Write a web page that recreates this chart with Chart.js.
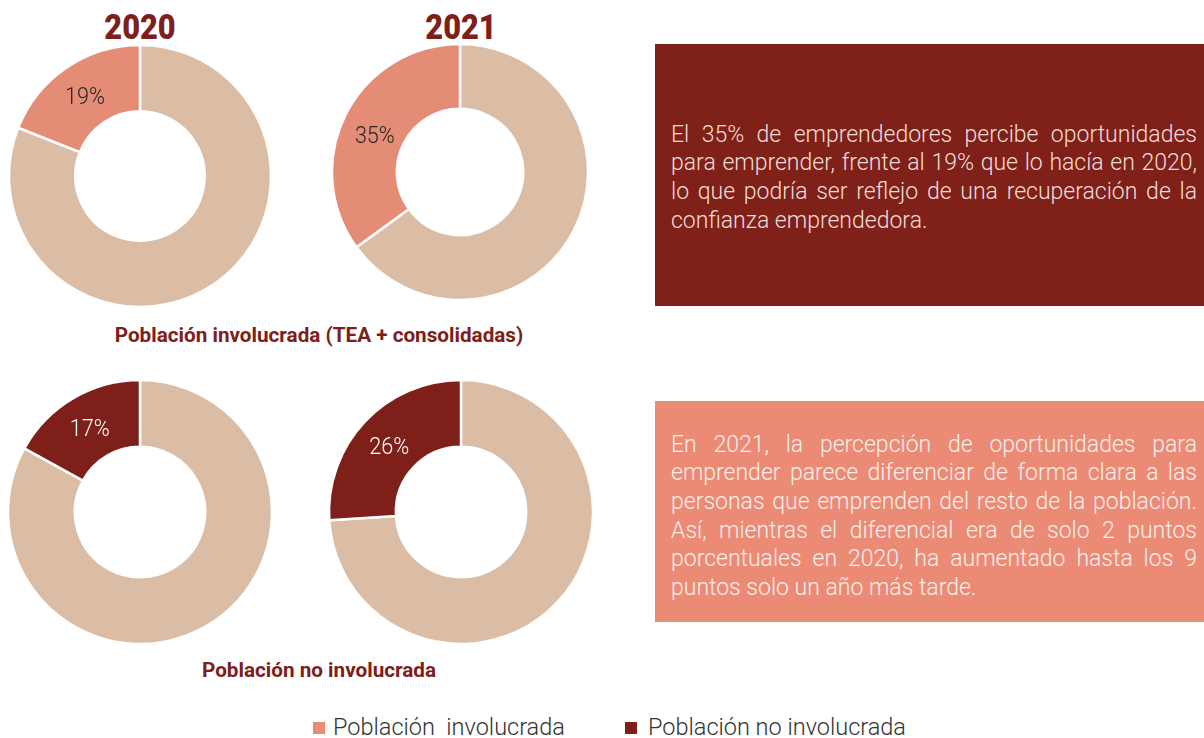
<!DOCTYPE html>
<html>
<head>
<meta charset="utf-8">
<script src="https://cdn.jsdelivr.net/npm/chart.js@4"></script>
<style>
  html, body { margin:0; padding:0; background:#fff; }
  body { width:1204px; height:738px; position:relative; overflow:hidden; font-family:Roboto, "Noto Sans", sans-serif; }
  .abs { position:absolute; }
  .title { font-weight:900; color:#7E2019; font-size:35px; line-height:35px; width:200px; text-align:center; transform:scaleX(0.88); transform-origin:center; }
  .sub { font-weight:700; color:#7E2019; font-size:21px; line-height:21px; width:520px; text-align:center; transform:scaleX(0.985); transform-origin:center; white-space:nowrap; }
  .box { position:absolute; left:655px; width:549px; }
  .line { position:absolute; left:16px; width:526px; font-weight:300; font-size:23px; line-height:28.7px; text-align:justify; text-align-last:justify; }
  .line.last { text-align-last:left; }
  .leg { position:absolute; font-weight:300; font-size:23.5px; line-height:23.5px; color:#333333; white-space:pre; }
  .sq { position:absolute; width:12px; height:12px; }
</style>
</head>
<body>
<script>
// ---- data ----
const years = ['2020', '2021'];
const groupTitles = ['Población involucrada (TEA + consolidadas)', 'Población no involucrada'];
const seriesNames = ['Población  involucrada', 'Población no involucrada'];
const involucradaPct = [19, 35];     // share perceiving opportunities, involved population
const noInvolucradaPct = [17, 26];   // share perceiving opportunities, non-involved population
const boxTopLines = [
  'El 35% de emprendedores percibe oportunidades',
  'para emprender, frente al 19% que lo hacía en 2020,',
  'lo que podría ser reflejo de una recuperación de la',
  'confianza emprendedora.'
];
const boxBottomLines = [
  'En 2021, la percepción de oportunidades para',
  'emprender parece diferenciar de forma clara a las',
  'personas que emprenden del resto de la población.',
  'Así, mientras el diferencial era de solo 2 puntos',
  'porcentuales en 2020, ha aumentado hasta los 9',
  'puntos solo un año más tarde.'
];

// ---- styles ----
const BEIGE = '#DBBDA5';
const SALMON = '#E48C76';
const DARK = '#7E2019';

function el(tag, cls, css, text) {
  const e = document.createElement(tag);
  if (cls) e.className = cls;
  Object.assign(e.style, css || {});
  if (text !== undefined) e.textContent = text;
  document.body.appendChild(e);
  return e;
}

// titles
el('div', 'abs title', {left:(140-100)+'px', top:'10px'}, years[0]);
el('div', 'abs title', {left:(461-100)+'px', top:'10px'}, years[1]);
// group subtitles
el('div', 'abs sub', {left:(319-260)+'px', top:'325px'}, groupTitles[0]);
el('div', 'abs sub', {left:(319-260)+'px', top:'660px'}, groupTitles[1]);

// text boxes
function makeBox(top, height, bg, color, lines, firstTop) {
  const b = el('div', 'box', {top:top+'px', height:height+'px', background:bg});
  lines.forEach((t, i) => {
    const d = document.createElement('div');
    d.className = 'line' + (i === lines.length-1 ? ' last' : '');
    d.style.top = (firstTop - top + i*28.7) + 'px';
    d.style.color = color;
    d.textContent = t;
    b.appendChild(d);
  });
}
makeBox(44, 262, '#7F2019', '#F3DDD7', boxTopLines, 120.5);
makeBox(401, 221, '#EB8B75', '#FDEEEA', boxBottomLines, 430.5);

// legend
el('div', 'sq', {left:'313px', top:'722px', background:'#EB8C76'});
el('div', 'leg', {left:'333px', top:'716px'}, seriesNames[0]);
el('div', 'sq', {left:'625px', top:'722px', background:DARK});
el('div', 'leg', {left:'648px', top:'716px'}, seriesNames[1]);

// label plugin
const pctLabel = {
  id: 'pctLabel',
  afterDatasetsDraw(chart, args, opts) {
    const meta = chart.getDatasetMeta(0);
    const arc = meta.data[1];
    const p = arc.tooltipPosition();
    const ctx = chart.ctx;
    ctx.save();
    ctx.translate(p.x, p.y + opts.dy);
    ctx.scale(0.9, 1);
    ctx.font = '300 24px Roboto';
    ctx.fillStyle = opts.color;
    ctx.textAlign = 'center';
    ctx.textBaseline = 'middle';
    ctx.fillText(chart.data.datasets[0].data[1] + '%', 0, 0);
    ctx.restore();
  }
};

function donut(cx, cy, r, value, color, labelColor, dy, name) {
  const size = Math.ceil(2*r + 6);
  const c = document.createElement('canvas');
  c.width = size; c.height = size;
  Object.assign(c.style, {position:'absolute', left:(cx - size/2)+'px', top:(cy - size/2)+'px', width:size+'px', height:size+'px'});
  document.body.appendChild(c);
  new Chart(c, {
    type: 'doughnut',
    data: {
      labels: ['Resto', name],
      datasets: [{
        data: [100 - value, value],
        backgroundColor: [BEIGE, color],
        borderColor: '#ffffff',
        borderWidth: 2.5
      }]
    },
    options: {
      responsive: false,
      animation: false,
      devicePixelRatio: 1,
      radius: r,
      cutout: r * 0.5,
      layout: { padding: 0 },
      plugins: { legend: { display:false }, tooltip: { enabled:false }, pctLabel: { color: labelColor, dy: dy } }
    },
    plugins: [pctLabel]
  });
}

donut(140, 176, 131, involucradaPct[0], SALMON, '#262626', 3, seriesNames[0]);
donut(460, 172, 128, involucradaPct[1], SALMON, '#262626', 8, seriesNames[0]);
donut(140, 512, 132, noInvolucradaPct[0], DARK, '#ffffff', 3, seriesNames[1]);
donut(461, 512, 132, noInvolucradaPct[1], DARK, '#ffffff', 3, seriesNames[1]);
</script>
</body>
</html>
